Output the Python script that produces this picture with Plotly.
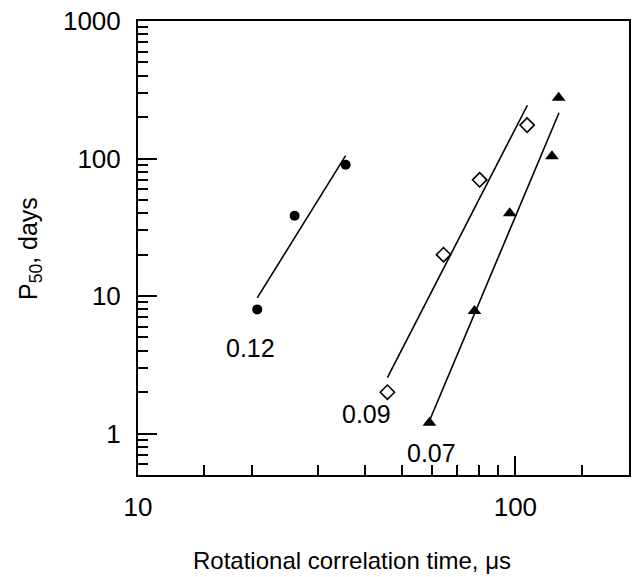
import numpy as np
import plotly.graph_objects as go

# ---- data ----
# series 0.12 (filled circles)
x_012 = [20.7, 26.0, 35.5]
y_012 = [8.0, 38.4, 90.0]
fit_x_012 = [20.7, 35.5]
fit_y_012 = [9.7, 105.0]

# series 0.09 (open diamonds)
x_009 = [45.8, 64.5, 80.4, 107.4]
y_009 = [2.0, 20.0, 70.0, 175.0]
fit_x_009 = [45.8, 107.6]
fit_y_009 = [2.55, 244.0]

# series 0.07 (filled triangles)
x_007 = [59.2, 77.9, 96.6, 125.0, 130.2]
y_007 = [1.2, 7.8, 40.0, 104.0, 277.0]
fit_x_007 = [59.2, 130.5]
fit_y_007 = [1.24, 215.0]

series_labels = ["0.12", "0.09", "0.07"]
label_x = [19.9, 40.4, 60.0]
label_y = [4.17, 1.40, 0.726]

x_major = [10, 100]
x_minor = [15, 20, 30, 40, 50, 60, 70, 80, 90, 150]
y_major = [1, 10, 100, 1000]
y_minor = [0.6, 0.7, 0.8, 0.9, 2, 3, 4, 5, 6, 7, 8, 9,
           20, 30, 40, 50, 60, 70, 80, 90, 200, 300, 400, 500, 600, 700, 800, 900]

FONT = "Liberation Sans, Arial, Helvetica, sans-serif"

L, R, T, B = 138, 629, 21, 475
W, H = 640, 577

fig = go.Figure()

line_style = dict(color="black", width=1.6)
for fx, fy in [(fit_x_012, fit_y_012), (fit_x_009, fit_y_009), (fit_x_007, fit_y_007)]:
    fig.add_trace(go.Scatter(x=fx, y=fy, mode="lines", line=line_style,
                             showlegend=False, hoverinfo="skip"))

fig.add_trace(go.Scatter(x=x_012, y=y_012, mode="markers",
                         marker=dict(symbol="circle", size=10, color="black"),
                         showlegend=False))
fig.add_trace(go.Scatter(x=x_009, y=y_009, mode="markers",
                         marker=dict(symbol="diamond-open", size=11, color="black",
                                     line=dict(width=1.6, color="black")),
                         showlegend=False))
fig.add_trace(go.Scatter(x=x_007, y=y_007, mode="markers",
                         marker=dict(symbol="triangle-up", size=12, color="black"),
                         showlegend=False))

for t, lx, ly in zip(series_labels, label_x, label_y):
    fig.add_annotation(x=np.log10(lx), y=np.log10(ly), text=t, showarrow=False,
                       xref="x", yref="y", font=dict(size=25, color="black", family=FONT))

# axis titles as annotations for exact placement
fig.add_annotation(text="Rotational correlation time, μs", xref="paper", yref="paper",
                   x=(352 - L) / (R - L), y=-(560 - B) / (B - T), showarrow=False,
                   xanchor="center", yanchor="middle",
                   font=dict(size=24, color="black", family=FONT))
fig.add_annotation(text="P<sub>50</sub>, days", xref="paper", yref="paper",
                   x=-(L - 30) / (R - L), y=(B - 249) / (B - T), showarrow=False,
                   textangle=-90, xanchor="center", yanchor="middle",
                   font=dict(size=25, color="black", family=FONT))

axis_common = dict(showgrid=False, zeroline=False, showline=True, linecolor="black",
                   linewidth=2, mirror=True, ticks="inside", ticklen=19, tickwidth=1.5,
                   tickcolor="black", automargin=False,
                   tickfont=dict(size=26, color="black", family=FONT))

fig.update_xaxes(type="log", range=[1, np.log10(200)], tickmode="array",
                 tickvals=x_major, ticktext=[str(v) for v in x_major],
                 minor=dict(tickmode="array", tickvals=x_minor, ticks="inside",
                            ticklen=10, tickwidth=1.5, tickcolor="black"),
                 ticklabelstandoff=8, **axis_common)
fig.update_yaxes(type="log", range=[np.log10(0.5), 3], tickmode="array",
                 tickvals=y_major, ticktext=[str(v) for v in y_major],
                 minor=dict(tickmode="array", tickvals=y_minor, ticks="inside",
                            ticklen=10, tickwidth=1.5, tickcolor="black"),
                 ticklabelstandoff=10, **axis_common)

fig.update_layout(width=W, height=H, margin=dict(l=L, r=W - R, t=T, b=H - B),
                  plot_bgcolor="white", paper_bgcolor="white",
                  font=dict(family=FONT, color="black"))

fig.write_html("out.html", config={"displayModeBar": False},
               post_script="document.body.style.margin='0';")
